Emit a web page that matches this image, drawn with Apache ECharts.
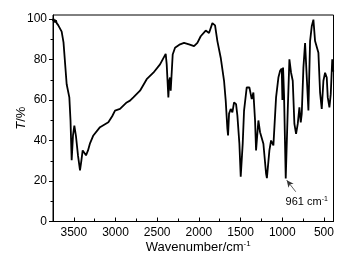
<!DOCTYPE html>
<html>
<head>
<meta charset="utf-8">
<script src="https://cdn.jsdelivr.net/npm/echarts@6/dist/echarts.min.js"></script>
<style>
  html, body { margin: 0; padding: 0; background: #fff; }
  #chart { width: 358px; height: 266px; }
</style>
</head>
<body>
<div id="chart"></div>
<script>
// IR spectrum
const wavenumber = [3750, 3745, 3738, 3730, 3722, 3715, 3706, 3698, 3688, 3672, 3646, 3624, 3586, 3554, 3540, 3526,
  3510, 3494, 3474, 3450, 3426, 3410, 3394, 3378, 3354, 3330, 3306, 3266, 3186, 3086, 3040, 3006, 2946, 2926, 2866,
  2826, 2786, 2706, 2626, 2546, 2466, 2398, 2386, 2366, 2356, 2346, 2338, 2314, 2286, 2226, 2178, 2118, 2058, 2018,
  1978, 1918, 1878, 1838, 1806, 1778, 1738, 1698, 1678, 1658, 1650, 1638, 1618, 1598, 1578, 1554, 1538, 1514, 1498,
  1474, 1458, 1426, 1394, 1378, 1366, 1346, 1326, 1314, 1286, 1266, 1246, 1226, 1194, 1184, 1154, 1134, 1106, 1074,
  1046, 1026, 1006, 998, 990, 978, 958, 934, 914, 894, 874, 854, 834, 814, 794, 778, 766, 746, 726, 706, 686, 666,
  646, 626, 606, 586, 566, 546, 526, 506, 486, 466, 454, 434, 418, 400, 388];
const transmittance = [99.0, 100.2, 98.4, 99.8, 98.2, 99.4, 98.0, 98.8, 97.0, 96.2, 93.8, 88.5, 67.8, 61.3, 50.0, 30.3,
  42.5, 47.4, 42.0, 32.5, 25.3, 30.0, 35.1, 34.5, 32.7, 35.1, 38.6, 42.5, 46.6, 49.0, 52.0, 54.8, 55.6, 56.4, 58.8,
  59.7, 61.3, 64.6, 70.3, 73.5, 77.6, 82.8, 77.6, 61.3, 69.5, 71.1, 64.6, 82.5, 85.8, 87.5, 88.2, 87.5, 86.6, 88.2,
  91.5, 94.3, 93.1, 98.0, 96.9, 89.1, 80.9, 69.5, 59.7, 45.8, 42.5, 53.3, 55.6, 53.9, 58.8, 58.0, 52.3, 38.4, 22.1,
  38.6, 54.8, 66.2, 66.2, 62.9, 60.5, 63.7, 49.9, 35.1, 49.9, 44.1, 43.3, 38.4, 23.7, 21.4, 35.1, 40.0, 37.6, 61.3,
  71.1, 74.4, 75.5, 60.0, 76.0, 62.0, 21.2, 54.8, 80.1, 73.5, 69.5, 48.2, 43.3, 48.2, 56.4, 49.0, 53.1, 76.0, 88.2,
  87.5, 54.8, 89.1, 96.4, 99.7, 89.1, 88.2, 83.3, 63.7, 55.6, 69.5, 73.5, 71.1, 61.3, 56.4, 62.9, 80.1, 74.0];

const xTickLabels = [500, 1000, 1500, 2000, 2500, 3000, 3500];
const yTickLabels = [0, 20, 40, 60, 80, 100];

// annotation: arrow tail -> head, and text anchor
const arrowFrom = [838, 14.7];
const arrowTo = [946, 20.4];
const noteAt = [706, 9.5];
const noteText = '961 cm{sup|-1}';

const X_MIN = 385, X_MAX = 3750, Y_MAX = 102;
const W = 358, H = 266;
const plot = { left: 53, right: 24.5, top: 15, bottom: 44.5 };
const pxX = (W - plot.left - plot.right) / (X_MAX - X_MIN);
const pxY = (H - plot.top - plot.bottom) / Y_MAX;
const xTickMin = xTickLabels[0], xTickMax = xTickLabels[xTickLabels.length - 1];
const yTickMax = yTickLabels[yTickLabels.length - 1];
// second grid only carries the tick marks / labels so they land on round numbers
const tickGrid = {
  left: plot.left + (X_MAX - xTickMax) * pxX,
  right: plot.right + (xTickMin - X_MIN) * pxX,
  top: plot.top + (Y_MAX - yTickMax) * pxY,
  bottom: plot.bottom
};

const font = 'Liberation Sans, Arial, sans-serif';
const points = wavenumber.map((w, i) => [w, transmittance[i]]);

const chart = echarts.init(document.getElementById('chart'), null, { renderer: 'canvas' });
chart.setOption({
  animation: false,
  backgroundColor: '#fff',
  grid: [
    Object.assign({ show: true, borderColor: '#000', borderWidth: 1, backgroundColor: 'transparent' }, plot),
    tickGrid
  ],
  xAxis: [{
    gridIndex: 0,
    type: 'value',
    min: X_MIN,
    max: X_MAX,
    inverse: true,
    axisLine: { lineStyle: { color: '#000', width: 1 } },
    axisTick: { show: false },
    axisLabel: { show: false },
    splitLine: { show: false },
    name: 'Wavenumber/cm{sup|-1}',
    nameLocation: 'middle',
    nameGap: 18,
    nameTextStyle: {
      color: '#000', fontSize: 13, fontFamily: font, padding: [0, 0, 0, 10],
      rich: { sup: { fontSize: 8, fontFamily: font, color: '#000', padding: [0, 0, 7, 0] } }
    }
  }, {
    gridIndex: 1,
    type: 'value',
    min: xTickMin,
    max: xTickMax,
    interval: 500,
    inverse: true,
    axisLine: { show: false },
    axisTick: { show: true, inside: true, length: 4, lineStyle: { color: '#000' } },
    minorTick: { show: true, splitNumber: 2, length: 3, lineStyle: { color: '#000' } },
    axisLabel: { color: '#000', fontSize: 12, fontFamily: font, margin: 5, formatter: v => String(v) },
    splitLine: { show: false }
  }],
  yAxis: [{
    gridIndex: 0,
    type: 'value',
    min: 0,
    max: Y_MAX,
    axisLine: { show: true, lineStyle: { color: '#000', width: 1 } },
    axisTick: { show: false },
    axisLabel: { show: false },
    splitLine: { show: false },
    name: '{i|T}/%',
    nameLocation: 'middle',
    nameGap: 25,
    nameTextStyle: {
      color: '#000', fontSize: 13, fontFamily: font,
      rich: { i: { fontStyle: 'italic', fontSize: 13, fontFamily: font, color: '#000' } }
    }
  }, {
    gridIndex: 1,
    type: 'value',
    min: 0,
    max: yTickMax,
    interval: 20,
    offset: tickGrid.left - plot.left,
    axisLine: { show: false },
    axisTick: { show: true, length: 4, lineStyle: { color: '#000' } },
    minorTick: { show: true, splitNumber: 2, length: 2.5, lineStyle: { color: '#000' } },
    axisLabel: { color: '#000', fontSize: 12, fontFamily: font, margin: 6 },
    splitLine: { show: false }
  }],
  series: [{
    type: 'line',
    xAxisIndex: 0,
    yAxisIndex: 0,
    data: points,
    showSymbol: false,
    smooth: false,
    lineStyle: { color: '#000', width: 1.8 },
    markLine: {
      silent: true,
      symbol: ['none', 'arrow'],
      symbolSize: [5, 7],
      lineStyle: { color: '#333', width: 0.8, type: 'solid' },
      label: { show: false },
      data: [[{ coord: arrowFrom }, { coord: arrowTo }]]
    },
    markPoint: {
      silent: true,
      symbol: 'rect',
      symbolSize: 1,
      itemStyle: { color: 'rgba(0,0,0,0)' },
      label: {
        show: true,
        position: 'inside',
        formatter: noteText,
        color: '#000',
        fontSize: 11,
        fontFamily: font,
        rich: { sup: { fontSize: 7, fontFamily: font, color: '#000', padding: [0, 0, 6, 0] } }
      },
      data: [{ coord: noteAt }]
    }
  }]
});
</script>
</body>
</html>
